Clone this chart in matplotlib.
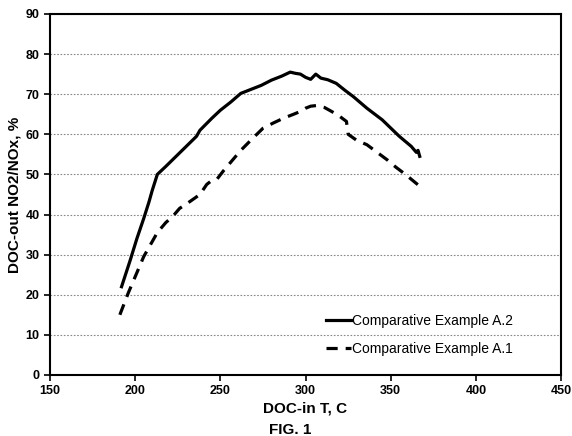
import matplotlib
matplotlib.use("Agg")
import matplotlib.pyplot as plt

plt.rcParams["font.family"] = ["Liberation Sans", "DejaVu Sans"]

# Comparative Example A.2 (solid)
t_a2 = [192, 197, 201, 205, 208, 210, 213, 218, 224, 230, 236, 238, 245, 250,
        256, 262, 268, 274, 280, 286, 291, 294, 297, 300, 303, 306, 309, 313,
        318, 323, 328, 336, 345, 355, 362, 365, 366, 367]
no2_a2 = [22, 28.5, 34, 39, 43, 46, 50, 52, 54.5, 57, 59.5, 61, 64, 66,
          68, 70.2, 71.2, 72.2, 73.5, 74.5, 75.5, 75.2, 75, 74.2, 73.7, 75, 74,
          73.6, 72.7, 71, 69.4, 66.5, 63.6, 59.5, 57, 55.5, 56, 54.5]

# Comparative Example A.1 (dashed)
t_a1 = [191, 196, 201, 205, 209, 213, 218, 222, 226, 232, 238, 242, 245, 248,
        252, 256, 262, 269, 275, 281, 287, 293, 297, 300, 303, 307, 311, 314,
        319, 324, 325, 330, 336, 342, 348, 353, 358, 362, 366]
no2_a1 = [15, 20.5, 25.5, 29.5, 32.5, 35.5, 38, 39.5, 41.5, 43.2, 45, 47.5, 48.5, 48.8,
          51, 53, 56, 59, 61.5, 62.8, 64, 65, 65.7, 66.5, 67, 67.2, 66.7, 66,
          64.8, 63.2, 60, 58.5, 57.4, 55.5, 53.6, 51.8, 50.2, 48.8, 47.4]

xticks = [150, 200, 250, 300, 350, 400, 450]
yticks = [0, 10, 20, 30, 40, 50, 60, 70, 80, 90]

fig = plt.figure(figsize=(5.72, 4.36), dpi=100)
ax = fig.add_axes([0.0874, 0.140, 0.8936, 0.828])

ax.plot(t_a2, no2_a2, color="black", lw=2.3, label="Comparative Example A.2")
ax.plot(t_a1, no2_a1, color="black", lw=2.3, dashes=(3.5, 2.5),
        label="Comparative Example A.1")

ax.set_xlim(150, 450)
ax.set_ylim(0, 90)
ax.set_xticks(xticks)
ax.set_yticks(yticks)
ax.yaxis.grid(True, linestyle=(0, (1.5, 1.5)), color="#888888", lw=0.8)
ax.set_axisbelow(True)
for s in ax.spines.values():
    s.set_linewidth(1.5)
ax.tick_params(direction="out", length=4, width=1.2, labelsize=9)
for lbl in ax.get_xticklabels() + ax.get_yticklabels():
    lbl.set_fontweight("bold")

ax.set_ylabel("DOC-out NO2/NOx, %", fontsize=11, fontweight="bold", labelpad=3)
ax.set_xlabel("DOC-in T, C", fontsize=11, fontweight="bold", labelpad=3)
fig.text(0.507, 0.014, "FIG. 1", fontsize=11, fontweight="bold",
         ha="center", va="center")

ax.legend(loc="center left", bbox_to_anchor=(0.515, 0.111), frameon=False,
          fontsize=10, handlelength=1.8, handletextpad=0.1, labelspacing=1.0)

fig.savefig("out.png", dpi=100)
